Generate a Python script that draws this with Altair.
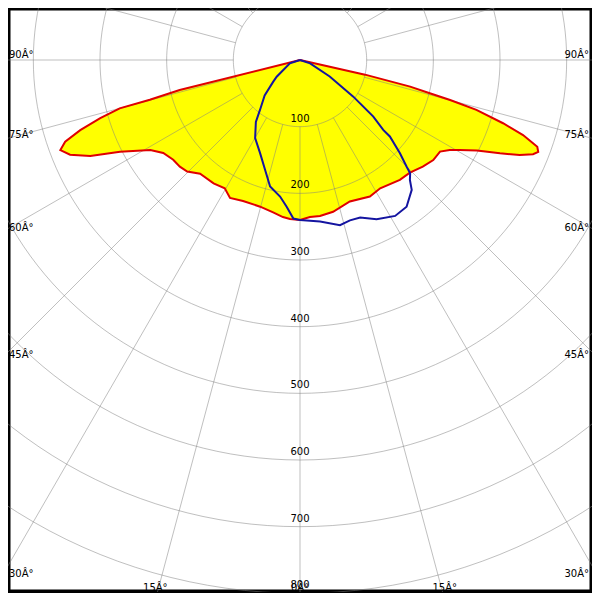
import altair as alt
import pandas as pd
import numpy as np

# ---- data (gamma = degrees from nadir, intensity in cd) ----
# red curve, C180 half (drawn on the left)
red_left_gamma = [0, 3.6, 6.2, 10, 15.2, 22, 26.9, 30.4, 35, 41.3, 45.3, 48.4, 51.8, 55.8,
                  59, 63, 65.4, 67.6, 69.4, 70.8, 72.3, 73.8, 75.0, 75.2, 76.0, 90]
red_left_cd = [240, 239, 237, 232, 228, 228, 232, 223, 226, 227, 238, 241, 242, 248,
               262, 303, 346, 373, 384, 373, 346, 312, 280, 233, 186, 0]
# red curve, C0 half (drawn on the right)
red_right_gamma = [0, 3.6, 7.3, 12.3, 19.4, 27.1, 32, 39.8, 44.3, 49, 53.1, 56.8, 59, 60.6,
                   62.9, 65, 66.6, 68, 68.9, 69.9, 71.4, 72.7, 74.2, 75.1, 75.6, 76.4, 77.3, 90]
red_right_cd = [240, 236, 236, 233, 225, 230, 227, 234, 236, 244, 250, 251, 262, 275,
                298, 331, 359, 377, 383, 379, 353, 319, 275, 233, 201, 170, 100, 0]
# blue curve, C270 half (left)
blue_left_gamma = [0, 2.4, 5.2, 8.3, 13.3, 17.6, 23.2, 29.9, 35.5, 38.7, 45, 50.9, 54.4, 71.7, 90]
blue_left_cd = [240, 238, 221, 207, 195, 173, 152, 135, 114, 96, 75, 52, 43, 16, 0]
# blue curve, C90 half (right)
blue_right_gamma = [0, 7.1, 13.6, 17.3, 20.9, 25.7, 31.4, 36, 40.7, 42.5, 44.2, 45, 47, 49.6,
                    50, 52.3, 55.5, 60.9, 71.7, 90]
blue_right_cd = [240, 244, 255, 252, 253, 265, 274, 272, 257, 244, 237, 226, 205, 177,
                 163, 139, 97, 51, 16, 0]

ring_values = [100, 200, 300, 400, 500, 600, 700, 800]
spoke_angles = list(range(0, 360, 15))
side_label_angles = [90, 75, 60, 45, 30]
bottom_label_angles = [-15, 0, 15]

PX = 1.5  # cd per pixel

def half(gammas, cds, side, reverse):
    rows = [dict(gamma=g, cd=c, side=side) for g, c in zip(gammas, cds)]
    return rows[::-1] if reverse else rows

red_rows = half(red_left_gamma, red_left_cd, -1, True) + half(red_right_gamma, red_right_cd, 1, False)
blue_rows = half(blue_left_gamma, blue_left_cd, -1, True) + half(blue_right_gamma, blue_right_cd, 1, False)
red_df = pd.DataFrame(red_rows); red_df["ord"] = range(len(red_df))
blue_df = pd.DataFrame(blue_rows); blue_df["ord"] = range(len(blue_df))

ring_df = pd.DataFrame([dict(r=r, t=t) for r in ring_values for t in range(0, 361, 2)])
spoke_df = pd.DataFrame(dict(a=spoke_angles))
ring_label_df = pd.DataFrame(dict(r=ring_values, label=[str(v) for v in ring_values]))

side_rows = []
for a in side_label_angles:
    cot = 0.0 if a == 90 else 1.0 / np.tan(np.radians(a))
    yc = -(300 * cot - 2.5) * PX
    side_rows.append(dict(x=(-300 + 9) * PX, y=yc, label=f"{a}Â°", al="left"))
    side_rows.append(dict(x=(300 - 11) * PX, y=yc, label=f"{a}Â°", al="right"))
left_lab = pd.DataFrame([r for r in side_rows if r["al"] == "left"])
right_lab = pd.DataFrame([r for r in side_rows if r["al"] == "right"])
bottom_lab = pd.DataFrame([dict(x=531 * np.tan(np.radians(a)) * PX * (540 / 531), y=-531 * PX,
                                label=f"{abs(a)}Â°") for a in bottom_label_angles])

xs = alt.Scale(domain=[-438, 438], nice=False, zero=False)
ys = alt.Scale(domain=[-798, 78], nice=False, zero=False)
X = lambda f: alt.X(f, type="quantitative", scale=xs, axis=None)
Y = lambda f: alt.Y(f, type="quantitative", scale=ys, axis=None)

polar_x = "datum.side * datum.cd * sin(datum.gamma * PI / 180)"
polar_y = "-datum.cd * cos(datum.gamma * PI / 180)"

fill = alt.Chart(red_df).transform_calculate(x=polar_x, y=polar_y).mark_line(
    fill="#ffff00", strokeOpacity=0, clip=True
).encode(x=X("x"), y=Y("y"), order=alt.Order("ord:Q"))

rings = alt.Chart(ring_df).transform_calculate(
    x="datum.r * sin(datum.t * PI / 180)", y="-datum.r * cos(datum.t * PI / 180)"
).mark_line(color="#808080", opacity=0.5, strokeWidth=1, clip=True).encode(
    x=X("x"), y=Y("y"), detail="r:N", order=alt.Order("t:Q"))

spokes = alt.Chart(spoke_df).transform_calculate(
    x="100 * sin(datum.a * PI / 180)", y="-100 * cos(datum.a * PI / 180)",
    x2="1300 * sin(datum.a * PI / 180)", y2="-1300 * cos(datum.a * PI / 180)"
).mark_rule(color="#808080", opacity=0.5, strokeWidth=1, clip=True).encode(
    x=X("x"), y=Y("y"), x2="x2:Q", y2="y2:Q")

font = dict(font="DejaVu Sans", fontSize=10, color="black")
ring_labels = alt.Chart(ring_label_df).transform_calculate(y="-datum.r").mark_text(
    baseline="bottom", dy=-3, align="center", **font
).encode(x=alt.X("zero:Q", scale=xs, axis=None), y=Y("y"), text="label:N").transform_calculate(zero="0")

lab_l = alt.Chart(left_lab).mark_text(align="left", baseline="alphabetic", **font).encode(
    x=X("x"), y=Y("y"), text="label:N")
lab_r = alt.Chart(right_lab).mark_text(align="right", baseline="alphabetic", **font).encode(
    x=X("x"), y=Y("y"), text="label:N")
lab_b = alt.Chart(bottom_lab).mark_text(align="center", baseline="alphabetic", **font).encode(
    x=X("x"), y=Y("y"), text="label:N")

red_line = alt.Chart(red_df).transform_calculate(x=polar_x, y=polar_y).mark_line(
    color="#e00000", strokeWidth=2, clip=True
).encode(x=X("x"), y=Y("y"), order=alt.Order("ord:Q"))

blue_line = alt.Chart(blue_df).transform_calculate(x=polar_x, y=polar_y).mark_line(
    color="#1414a0", strokeWidth=2, clip=True
).encode(x=X("x"), y=Y("y"), order=alt.Order("ord:Q"))

chart = alt.layer(fill, rings, spokes, ring_labels, lab_l, lab_r, lab_b, red_line, blue_line).properties(
    width=584, height=584, padding=0, background="white"
).configure_view(stroke="black", strokeWidth=5)

chart.save("out.html", embed_options={"renderer": "svg", "actions": False})
